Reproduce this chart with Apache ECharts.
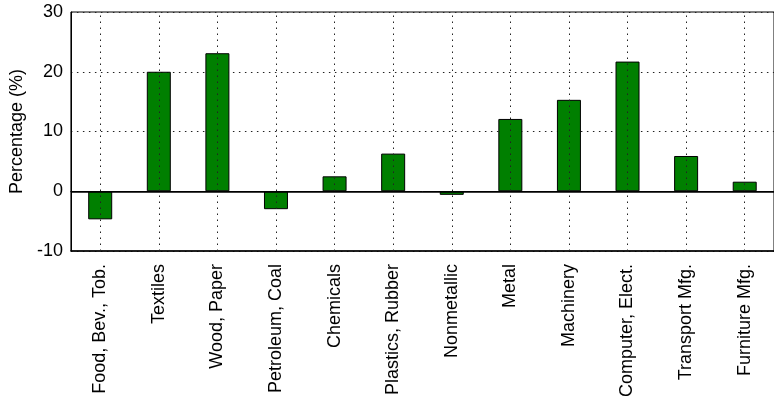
<!DOCTYPE html>
<html>
<head>
<meta charset="utf-8">
<script src="https://cdn.jsdelivr.net/npm/echarts@6/dist/echarts.min.js"></script>
<style>
  html, body { margin: 0; padding: 0; background: #fff; }
  #chart { width: 774px; height: 406px; }
</style>
</head>
<body>
<div id="chart"></div>
<script>
// industries and percentage change
var categories = ['Food, Bev., Tob.', 'Textiles', 'Wood, Paper', 'Petroleum, Coal', 'Chemicals',
  'Plastics, Rubber', 'Nonmetallic', 'Metal', 'Machinery', 'Computer, Elect.', 'Transport Mfg.', 'Furniture Mfg.'];
var values = [-4.7, 20.0, 23.1, -3.0, 2.5, 6.3, -0.6, 12.1, 15.3, 21.7, 5.9, 1.6];
var yTicks = [-10, 0, 10, 20, 30];

var font = 'Liberation Sans';
var dotted = { color: '#222', width: 1, type: [1.5, 4.5] };

var chart = echarts.init(document.getElementById('chart'));
chart.setOption({
  animation: false,
  grid: { left: 67, top: 12, width: 715, height: 239, show: true, borderColor: '#000', borderWidth: 1 },
  xAxis: [{
    type: 'category',
    data: categories,
    position: 'bottom',
    axisLine: { onZero: false, lineStyle: { color: '#000', width: 1.5 } },
    axisTick: { inside: true, alignWithLabel: true, length: 6, lineStyle: { color: '#000' } },
    axisLabel: { rotate: 90, margin: 13, fontFamily: font, fontSize: 18, color: '#000' },
    splitLine: { show: false }
  }, {
    type: 'category',
    data: categories,
    position: 'top',
    axisLine: { lineStyle: { color: '#000' } },
    axisTick: { inside: true, alignWithLabel: true, length: 6, lineStyle: { color: '#000' } },
    axisLabel: { show: false }
  }],
  yAxis: {
    type: 'value',
    min: yTicks[0],
    max: yTicks[yTicks.length - 1],
    interval: 10,
    name: 'Percentage (%)',
    nameLocation: 'middle',
    nameGap: 40,
    nameTextStyle: { fontFamily: font, fontSize: 18, color: '#000' },
    axisLine: { show: true, lineStyle: { color: '#000' } },
    axisTick: { show: false },
    axisLabel: { fontFamily: font, fontSize: 18, color: '#000', margin: 8 },
    splitLine: { show: true, lineStyle: dotted }
  },
  series: [{
    // vertical dotted grid lines through category centres
    type: 'line',
    data: [],
    z: 1,
    markLine: {
      silent: true,
      symbol: 'none',
      label: { show: false },
      lineStyle: dotted,
      data: categories.map(function (c) { return { xAxis: c }; })
    }
  }, {
    type: 'bar',
    data: values,
    barWidth: 24,
    z: 3,
    itemStyle: { color: '#007f00', borderColor: '#000', borderWidth: 1 },
    markLine: {
      silent: true,
      symbol: 'none',
      label: { show: false },
      lineStyle: { color: '#000', type: 'solid', width: 1.5 },
      data: [{ yAxis: 0 }]
    }
  }]
});
</script>
</body>
</html>
